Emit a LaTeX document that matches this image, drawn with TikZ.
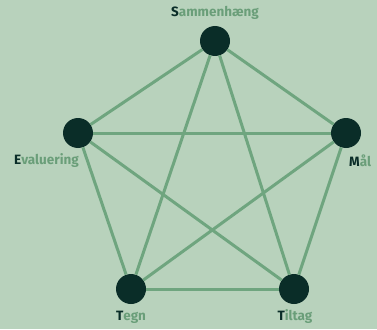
\documentclass[tikz,border=0pt]{standalone}
\usepackage{fontspec}
\setmainfont{Fira Sans}
\usepackage{xcolor}
\usetikzlibrary{positioning}
\definecolor{bgreen}{HTML}{B8D2BC}
\definecolor{ndark}{HTML}{0A2D28}
\definecolor{lgreen}{HTML}{6FA57F}
\definecolor{tgreen}{HTML}{6A9E79}
\newcommand{\initial}[2]{\textcolor{ndark}{#1}#2}
\tikzset{%
	vertex/.style = {draw=none, circle, fill=ndark, minimum size=30pt, inner sep=0pt},
	tag/.style    = {font=\bfseries\fontsize{13.5}{15}\selectfont, text=tgreen, inner sep=0pt},
	edge/.style   = {draw=lgreen, line width=3pt},
}
\begin{document}
\begin{tikzpicture}[x=1pt,y=-1pt]
	\fill [bgreen] (0,0) rectangle (377,329);
	\useasboundingbox (0,0) rectangle (377,329);
	\node [vertex] (s) at (215,41) {};
	\node [vertex] (e) at (78,133) {};
	\node [vertex] (m) at (346,133) {};
	\node [vertex] (t) at (131,289) {};
	\node [vertex] (ti) at (294,289) {};
	
	\node [tag] (ls) at (215,13) {\initial{S}{ammenhæng}};
	\node [tag,anchor=east] (le) at (79,161) {\initial{E}{valuering}};
	\node [tag,anchor=west] (lm) at (349,161) {\initial{M}{ål}};
	\node [tag] (lt) at (131,317) {\initial{T}{egn}};
	\node [tag] (lti) at (295,317) {\initial{T}{iltag}};
	
	\draw [edge] (s) -- (e);
	\draw [edge] (s) -- (m);
	\draw [edge] (s) -- (t);
	\draw [edge] (s) -- (ti);
	\draw [edge] (e) -- (m);
	\draw [edge] (e) -- (t);
	\draw [edge] (e) -- (ti);
	\draw [edge] (m) -- (t);
	\draw [edge] (m) -- (ti);
	\draw [edge] (t) -- (ti);
\end{tikzpicture}
\end{document}
